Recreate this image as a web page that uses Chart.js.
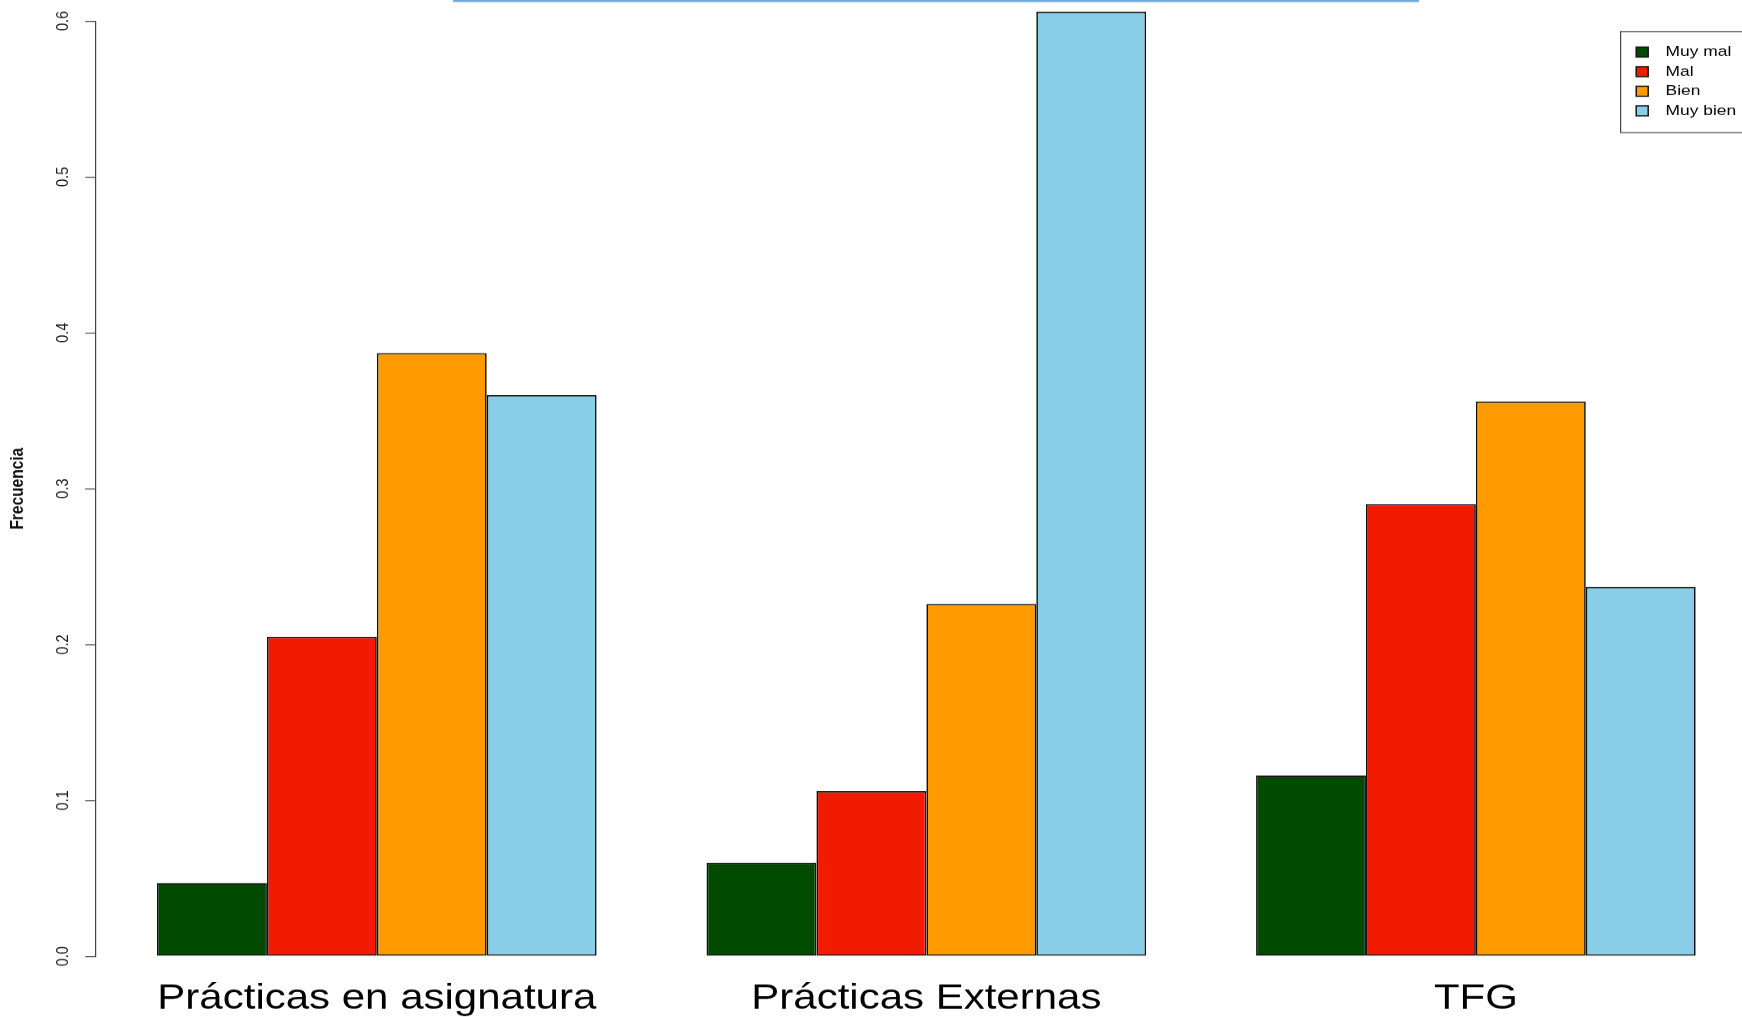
<!DOCTYPE html>
<html><head><meta charset="utf-8">
<script src="https://cdn.jsdelivr.net/npm/chart.js@4/dist/chart.umd.min.js"></script>
<style>
html,body{margin:0;padding:0;background:#fff;overflow:hidden}
#wrap{width:1742px;height:1017px;overflow:hidden;position:relative;background:#fff}
#inner{width:1452px;height:1017px;transform:scaleX(1.19972);transform-origin:0 0}
</style></head><body>
<div id="wrap"><div id="inner"><canvas id="c"></canvas></div></div>
<script>
const categories = ['Prácticas en asignatura', 'Prácticas Externas', 'TFG'];
const seriesNames = ['Muy mal', 'Mal', 'Bien', 'Muy bien'];
const muyMal  = [0.047, 0.060, 0.116];
const mal     = [0.205, 0.106, 0.290];
const bien    = [0.387, 0.226, 0.356];
const muyBien = [0.360, 0.606, 0.237];
const yTickValues = [0.0, 0.1, 0.2, 0.3, 0.4, 0.5, 0.6];
const seriesColors = ['#004b00', '#f21a00', '#ff9a00', '#89cee6'];
const seriesValues = [muyMal, mal, bien, muyBien];

const FONT = '"Liberation Sans", Arial, Helvetica, sans-serif';

const rLegend = {
  id: 'rLegend',
  afterDraw(chart) {
    const ctx = chart.ctx;
    ctx.save();
    ctx.strokeStyle = '#444';
    ctx.lineWidth = 1;
    ctx.strokeRect(1350.5, 31.5, 130, 101);
    ctx.font = '14.5px ' + FONT;
    ctx.textBaseline = 'middle';
    chart.data.datasets.forEach((ds, i) => {
      const cy = 52 + i * 19.6;
      ctx.fillStyle = ds.backgroundColor;
      ctx.fillRect(1363.5, cy - 5, 10, 10);
      ctx.strokeStyle = '#111';
      ctx.lineWidth = 1.2;
      ctx.strokeRect(1363.5, cy - 5, 10, 10);
      ctx.fillStyle = '#000';
      ctx.fillText(ds.label, 1388, cy);
    });
    ctx.fillStyle = '#6fa8dc';
    ctx.fillRect(377.5, 0, 805, 2);
    ctx.restore();
  }
};

const datasets = seriesNames.map((name, s) => ({
  label: name,
  data: seriesValues[s].map((v, i) => ({ x: i + 1, y: v })),
  backgroundColor: seriesColors[s],
  borderColor: '#111',
  borderWidth: 1.4,
  borderSkipped: false,
  categoryPercentage: 0.8,
  barPercentage: 1.0,
  clip: false
}));

new Chart(document.getElementById('c'), {
  type: 'bar',
  data: { datasets },
  options: {
    responsive: true,
    maintainAspectRatio: false,
    animation: false,
    devicePixelRatio: 1.2,
    layout: { padding: { top: 21, left: 0, right: 0, bottom: 0 } },
    plugins: { legend: { display: false }, tooltip: { enabled: false } },
    scales: {
      x: {
        type: 'linear',
        position: 'bottom',
        offset: false,
        min: 0.489,
        max: 3.485,
        afterBuildTicks: (scale) => { scale.ticks = categories.map((c, i) => ({ value: i + 1 })); },
        afterFit: (scale) => { scale.height = 61; },
        grid: { display: false, offset: false },
        border: { display: false },
        ticks: {
          autoSkip: false,
          maxRotation: 0,
          minRotation: 0,
          padding: 14,
          color: '#000',
          font: { family: FONT, size: 35 },
          callback: (v, i) => categories[i]
        }
      },
      y: {
        min: 0,
        max: 0.6,
        afterBuildTicks: (scale) => { scale.ticks = yTickValues.map(v => ({ value: v })); },
        afterFit: (scale) => { scale.width = 80; },
        grid: { display: true, drawOnChartArea: false, drawTicks: true, tickLength: 9, color: '#444', lineWidth: 1 },
        border: { display: true, color: '#444', width: 1 },
        ticks: {
          minRotation: 90,
          maxRotation: 90,
          crossAlign: 'center',
          padding: 8,
          color: '#1a1a1a',
          font: { family: FONT, size: 14.5 },
          callback: (v) => Number(v).toFixed(1)
        },
        title: {
          display: true,
          text: 'Frecuencia',
          color: '#111',
          font: { family: FONT, size: 15.5, weight: 'bold' },
          padding: { top: 6, bottom: 0 }
        }
      }
    }
  },
  plugins: [rLegend]
});
</script>
</body></html>
